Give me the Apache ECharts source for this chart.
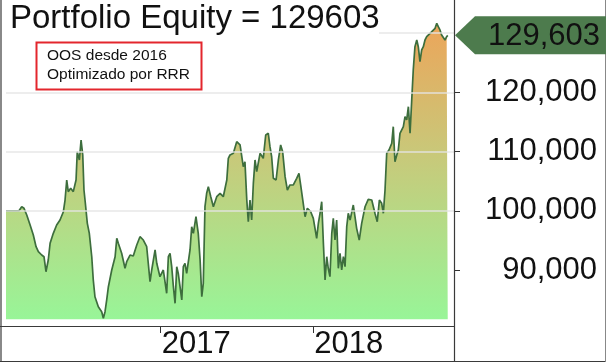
<!DOCTYPE html>
<html>
<head>
<meta charset="utf-8">
<script src="https://cdn.jsdelivr.net/npm/echarts@6/dist/echarts.min.js"></script>
<style>
html,body{margin:0;padding:0;background:#fff;}
#chart{width:606px;height:364px;}
</style>
</head>
<body>
<div id="chart"></div>
<script>
// ---- data (decimal years, equity) ----
var dates = [2015.986, 2016.071, 2016.078, 2016.089, 2016.104, 2016.122, 2016.144, 2016.165, 2016.183, 2016.198,
  2016.220, 2016.235, 2016.248, 2016.263, 2016.275, 2016.296, 2016.318, 2016.340, 2016.362, 2016.373,
  2016.384, 2016.394, 2016.410, 2016.427, 2016.445, 2016.453, 2016.467, 2016.478, 2016.489, 2016.497,
  2016.506, 2016.519, 2016.532, 2016.548, 2016.558, 2016.569, 2016.591, 2016.613, 2016.624, 2016.635,
  2016.646, 2016.657, 2016.679, 2016.701, 2016.712, 2016.722, 2016.744, 2016.766, 2016.777, 2016.799,
  2016.820, 2016.843, 2016.864, 2016.886, 2016.908, 2016.930, 2016.941, 2016.963, 2016.974, 2016.995,
  2017.017, 2017.039, 2017.050, 2017.061, 2017.072, 2017.083, 2017.094, 2017.105, 2017.115, 2017.138,
  2017.148, 2017.159, 2017.170, 2017.192, 2017.203, 2017.214, 2017.231, 2017.246, 2017.258, 2017.269,
  2017.279, 2017.290, 2017.301, 2017.312, 2017.328, 2017.345, 2017.367, 2017.389, 2017.410, 2017.433,
  2017.443, 2017.454,
  2017.476, 2017.498, 2017.520, 2017.541, 2017.552, 2017.564, 2017.574, 2017.585, 2017.596, 2017.607,
  2017.618, 2017.629, 2017.651, 2017.672, 2017.688, 2017.705, 2017.716, 2017.727, 2017.738, 2017.756,
  2017.771, 2017.786, 2017.799, 2017.815, 2017.830, 2017.847, 2017.869, 2017.891, 2017.906, 2017.917,
  2017.931, 2017.946, 2017.961, 2017.983, 2018.000, 2018.011, 2018.022, 2018.033, 2018.044, 2018.055,
  2018.066, 2018.077, 2018.088, 2018.098, 2018.109, 2018.121, 2018.131, 2018.142, 2018.153, 2018.164,
  2018.175, 2018.186, 2018.197, 2018.208, 2018.219, 2018.229, 2018.241, 2018.262, 2018.273, 2018.284,
  2018.301, 2018.317, 2018.339, 2018.360, 2018.383, 2018.404, 2018.419, 2018.433, 2018.448, 2018.459,
  2018.470, 2018.481, 2018.496, 2018.514, 2018.524, 2018.535, 2018.547, 2018.557, 2018.568, 2018.590,
  2018.601, 2018.612, 2018.623, 2018.634, 2018.645,
  2018.655, 2018.666, 2018.678, 2018.688, 2018.699, 2018.710, 2018.721, 2018.732, 2018.743, 2018.754,
  2018.765, 2018.776, 2018.798, 2018.809, 2018.819, 2018.830, 2018.841, 2018.852, 2018.863, 2018.874,
  2018.881];

var equity = [100000, 100000, 99840, 100680, 100410, 99280, 97590, 95910, 93930, 93090,
  92530, 92240, 89710, 91690, 94510, 96190, 97590, 98440, 99840, 101810,
  105190, 103220, 103790, 103220, 105190, 109970, 108570, 111940, 109410, 103500,
  101260, 97880, 96190, 92240, 88310, 85490, 83800, 82960, 81850, 82960,
  84940, 87180, 90000, 92240, 95350, 94510, 92820, 90290, 91400, 92530,
  92360, 94220, 95620, 95060, 93930, 88020, 90000, 93380, 91130, 88870,
  90000, 86070, 92240, 92820, 90560, 87180, 84380, 90560, 89440, 84940,
  90560, 91130, 89440, 93380, 97310, 96190, 99000, 96190, 91690, 85490,
  87750, 100680, 102940, 104060, 102370, 100680, 102370, 102940, 102370, 105190,
  108850, 109410,
  109700, 111650, 111100, 107430, 108280, 101810, 98150, 101810, 98440, 104630,
  108570, 106590, 109700, 108850, 112790, 113070, 110810, 109120, 105480, 105190,
  108570, 111100, 109970, 105750, 103500, 104350, 104350, 105480, 106320, 104350,
  101810, 99000, 100410, 99840, 98720, 97030, 95350, 97880, 99570, 101530,
  94510, 88310, 92240, 90290, 88870, 96190, 98720, 95060, 98440, 90290,
  92820, 90000, 92240, 90560, 97310, 99570, 98440, 100970, 99000, 97030,
  95060, 97880, 100680, 101930, 101810, 99570, 98150, 101810, 101260, 99570,
  103500, 109700, 110250, 111380, 114190, 108280, 109410, 110250, 113070, 114190,
  115870, 115320, 117560, 113070, 118690,
  123750, 127690, 128820, 127690, 125160, 127130, 127690, 128820, 129380, 129100,
  129950, 129660, 130790, 131640, 131070, 130510, 129660, 129950, 128820, 129380,
  129603];

var xTickYears = [2017, 2018];
var yTickValues = [90000, 100000, 110000, 120000, 130000];
var titleText = 'Portfolio Equity = 129603';
var legendLines = ['OOS desde 2016', 'Optimizado por RRR'];
var lastValueLabel = '129,603';

var FONT = '"Liberation Sans", Arial, sans-serif';
var seriesData = dates.map(function (d, i) { return [d, equity[i]]; });

var chart = echarts.init(document.getElementById('chart'), null, {renderer: 'canvas'});
var option = {
  animation: false,
  backgroundColor: '#ffffff',
  grid: {left: 6, right: 152, top: 33, bottom: 34.75},
  xAxis: {
    type: 'value', min: 2015.986, max: 2018.922,
    offset: -3.25,
    axisLine: {show: false},
    splitLine: {show: false},
    axisTick: {show: true, customValues: xTickYears, length: 7, lineStyle: {color: '#333', width: 1}},
    axisLabel: {
      customValues: xTickYears, formatter: function (v) { return String(Math.round(v)); },
      fontSize: 31, fontFamily: FONT, color: '#111', align: 'left', margin: 3, padding: [0, 0, 0, 1]
    }
  },
  yAxis: {
    type: 'value', position: 'right', min: 80000, max: 130000, interval: 10000,
    z: 3,
    axisLine: {show: false},
    axisTick: {show: true, customValues: yTickValues, length: 6, lineStyle: {color: '#333', width: 1}},
    axisLabel: {
      fontSize: 31, fontFamily: FONT, color: '#111', align: 'right', margin: 143,
      showMinLabel: false, showMaxLabel: false
    },
    splitLine: {show: true, showMinLine: false, lineStyle: {color: 'rgba(228,228,228,0.9)', width: 1.5}}
  },
  series: [{
    type: 'line',
    data: seriesData,
    showSymbol: false,
    clip: false,
    z: 2,
    lineStyle: {color: '#3d6e3d', width: 1.7},
    areaStyle: {
      origin: 81700,
      opacity: 1,
      color: new echarts.graphic.LinearGradient(0, 0, 0, 1, [
        {offset: 0, color: '#eca55a'},
        {offset: 0.45, color: '#c8c97a'},
        {offset: 1, color: '#98f598'}
      ])
    }
  }]
};
chart.setOption(option);

// last value tag positioned from the axes
var lastPt = chart.convertToPixel({gridIndex: 0}, [dates[dates.length - 1], equity[equity.length - 1]]);
var axisX = chart.convertToPixel({xAxisIndex: 0}, 2018.922);
var py = lastPt[1];
var lineColor = '#3a3a3a';

chart.setOption({
  graphic: [
    // frame
    {type: 'line', z: 100, shape: {x1: 1, y1: 0, x2: 1, y2: 362}, style: {stroke: lineColor, lineWidth: 1.2}},
    {type: 'line', z: 100, shape: {x1: 0, y1: 361.5, x2: 606, y2: 361.5}, style: {stroke: lineColor, lineWidth: 1.2}},
    {type: 'line', z: 100, shape: {x1: axisX + 0.5, y1: 0, x2: axisX + 0.5, y2: 362}, style: {stroke: lineColor, lineWidth: 1.2}},
    {type: 'line', z: 100, shape: {x1: 605.5, y1: 0, x2: 605.5, y2: 362}, style: {stroke: '#888', lineWidth: 1}},
    {type: 'line', z: 100, shape: {x1: 0, y1: 326.5, x2: axisX + 0.5, y2: 326.5}, style: {stroke: lineColor, lineWidth: 1.2}},
    // title
    {type: 'rect', z: 90, shape: {x: 2, y: 0, width: 377, height: 34}, style: {fill: '#ffffff'}},
    {type: 'text', z: 101, style: {x: 10, y: 19, text: titleText, font: '33px ' + FONT, fill: '#111', align: 'left', verticalAlign: 'middle'}},
    // legend box
    {type: 'rect', z: 101, shape: {x: 36.5, y: 42.5, width: 165, height: 47}, style: {fill: '#ffffff', stroke: '#e3262d', lineWidth: 2}},
    {type: 'text', z: 102, style: {x: 47, y: 56, text: legendLines[0], font: '15.5px ' + FONT, fill: '#111', align: 'left', verticalAlign: 'middle'}},
    {type: 'text', z: 102, style: {x: 47, y: 75, text: legendLines[1], font: '15.5px ' + FONT, fill: '#111', align: 'left', verticalAlign: 'middle'}},
    // last value tag
    {type: 'polygon', z: 102, shape: {points: [[axisX + 1, py], [axisX + 21, py - 19], [606, py - 19], [606, py + 19], [axisX + 21, py + 19]]},
      style: {fill: '#4d7b4d'}},
    {type: 'text', z: 103, style: {x: 600, y: py + 1, text: lastValueLabel, font: '31px ' + FONT, fill: '#111', align: 'right', verticalAlign: 'middle'}}
  ]
});
</script>
</body>
</html>
